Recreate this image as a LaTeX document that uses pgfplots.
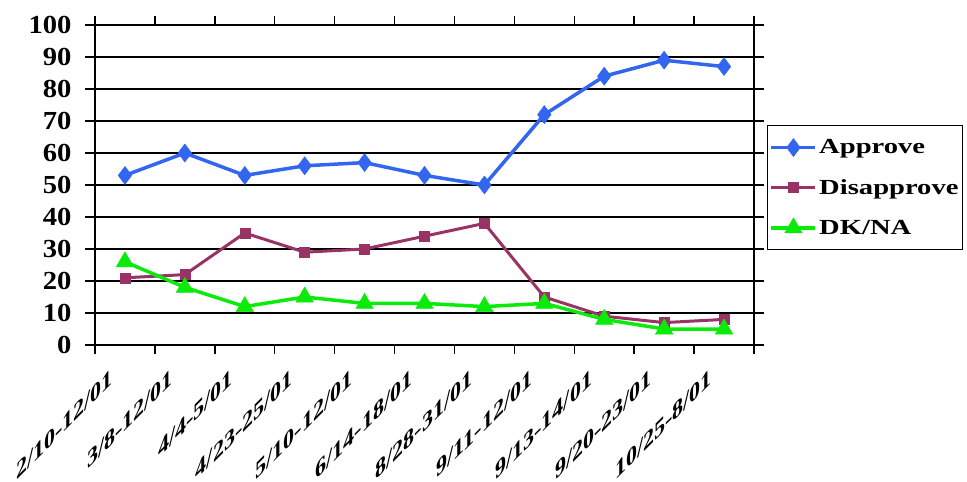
\documentclass[border=0pt]{standalone}
\usepackage{fontspec}
\setmainfont{Liberation Serif}
\newfontfamily\yfont{Liberation Serif}[FakeStretch=1.1]
\newfontfamily\legfont{Liberation Serif}[FakeStretch=1.33]
\usepackage{pgfplots}
\pgfplotsset{compat=1.18}
\definecolor{appr}{RGB}{51,102,240}
\definecolor{disa}{RGB}{153,51,102}
\definecolor{dkna}{RGB}{10,235,10}
\begin{document}
\begin{tikzpicture}
\begin{axis}[
  scale only axis, width=659pt, height=320pt,
  xmin=-0.5, xmax=10.5, ymin=0, ymax=100,
  xtick={0,...,10},
  xticklabels={2/10-12/01, 3/8-12/01, 4/4-5/01, 4/23-25/01, 5/10-12/01, 6/14-18/01, 8/28-31/01, 9/11-12/01, 9/13-14/01, 9/20-23/01, 10/25-8/01},
  minor xtick={-0.5,0.5,...,10.5},
  ytick={0,10,...,100},
  ymajorgrids, grid style={black, line width=1.5pt},
  axis line style={black, line width=1.5pt},
  tick align=outside,
  major tick length=10pt, minor tick length=9pt,
  major x tick style={draw=none},
  minor x tick style={black, line width=1.5pt},
  ytick style={black, line width=1.5pt},
  /pgf/number format/assume math mode=true,
  yticklabel style={font=\yfont\bfseries\fontsize{26}{28}\selectfont, xshift=-10pt},
  xticklabel style={xshift=-11pt, yshift=-10pt, cm={1,1,0,1.1,(0,0)}, anchor=north east, inner sep=1pt, font=\bfseries\fontsize{22}{24}\selectfont},
  legend style={at={(1.0197,0.6875)}, anchor=north west, draw=black, line width=1.5pt,
    font=\legfont\bfseries\fontsize{21.5}{23}\selectfont, row sep=20pt, inner xsep=2pt, inner ysep=12pt},
  legend cell align=left,
  legend image code/.code={\draw[mark repeat=2,mark phase=2] plot coordinates {(0pt,0pt)(22pt,0pt)(44pt,0pt)};},
]
\addplot[appr, line width=3.5pt, mark=diamond*, mark size=9pt, mark options={line width=0.5pt, fill=appr}]
  coordinates {(0,53)(1,60)(2,53)(3,56)(4,57)(5,53)(6,50)(7,72)(8,84)(9,89)(10,87)};
\addlegendentry{Approve}
\addplot[disa, line width=3pt, mark=square*, mark size=5pt, mark options={line width=0.5pt, fill=disa}]
  coordinates {(0,21)(1,22)(2,35)(3,29)(4,30)(5,34)(6,38)(7,15)(8,9)(9,7)(10,8)};
\addlegendentry{Disapprove}
\addplot[dkna, line width=3.5pt, mark=triangle*, mark size=10pt, mark options={line width=0.5pt, fill=dkna}]
  coordinates {(0,26)(1,18)(2,12)(3,15)(4,13)(5,13)(6,12)(7,13)(8,8)(9,5)(10,5)};
\addlegendentry{DK/NA}
\end{axis}
\pgfresetboundingbox
\path (-95pt,-137pt) rectangle (872pt,345pt);
\end{tikzpicture}
\end{document}
